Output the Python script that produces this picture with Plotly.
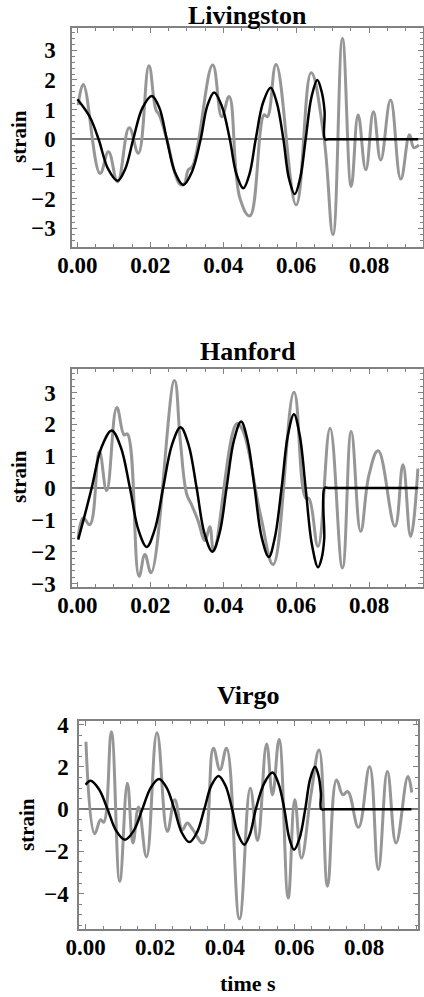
import plotly.graph_objects as go

# ---------------- data ----------------
liv_gray_t = [0.0002, 0.0016, 0.0062, 0.0085, 0.0110, 0.0142, 0.0167, 0.0196, 0.0215, 0.0225,
              0.0245, 0.0280, 0.0292, 0.0304, 0.0316, 0.0371, 0.0396, 0.0416, 0.0446, 0.0473,
              0.0512, 0.0521, 0.0545, 0.0600, 0.0641, 0.0676, 0.0701, 0.0727, 0.0751, 0.0770,
              0.0791, 0.0812, 0.0832, 0.0859, 0.0887, 0.0911, 0.0923, 0.0937]
liv_gray_y = [1.15, 1.85, -1.15, -0.42, -1.43, 0.39, -0.47, 2.48, 1.0, 0.8,
              0.0, -1.50, -1.52, -1.03, -0.9, 2.50, 0.76, 1.44, -2.0, -2.58,
              0.82, 0.76, 2.52, -2.21, 2.24, 0.09, -3.22, 3.40, -1.59, 0.82,
              -1.03, 0.93, -0.70, 1.32, -1.34, 0.15, -0.28, -0.19]

liv_black_t = [0.0000, 0.0034, 0.0058, 0.0084, 0.0110, 0.0131, 0.0153, 0.0178, 0.0204, 0.0225,
               0.0245, 0.0267, 0.0290, 0.0314, 0.0338, 0.0356, 0.0375, 0.0396, 0.0418, 0.0436,
               0.0455, 0.0472, 0.0489, 0.0509, 0.0530, 0.0547, 0.0565, 0.0580, 0.0596, 0.0611,
               0.0626, 0.0642, 0.0658, 0.0670, 0.0678, 0.0679, 0.0690, 0.0935]
liv_black_y = [1.35, 0.75, 0.0, -1.00, -1.40, -1.00, 0.0, 1.05, 1.46, 1.05,
               0.0, -1.10, -1.54, -1.10, 0.0, 1.12, 1.58, 1.12, 0.0, -1.17,
               -1.65, -1.17, 0.0, 1.23, 1.74, 1.23, 0.0, -1.31, -1.85, -1.31,
               0.0, 1.42, 2.00, 1.60, 0.93, 0.0, 0.0, 0.0]

han_gray_t = [0.0002, 0.0016, 0.0034, 0.0060, 0.0080, 0.0108, 0.0128, 0.0137, 0.0169, 0.0185,
              0.0202, 0.0266, 0.0282, 0.0300, 0.0312, 0.0330, 0.0350, 0.0363, 0.0374, 0.0437,
              0.0452, 0.0503, 0.0537, 0.0594, 0.0626, 0.0635, 0.0660, 0.0693, 0.0727, 0.0751,
              0.0777, 0.0800, 0.0825, 0.0871, 0.0893, 0.0914, 0.0934]
han_gray_y = [-1.57, -0.94, -1.15, 1.15, -0.08, 2.53, 1.67, 1.70, -2.77, -2.09,
              -2.66, 3.38, 1.5, -0.2, -0.5, -1.0, -1.65, -1.22, -1.97, 2.02,
              1.85, -0.89, -2.40, 3.01, -0.31, -0.33, -1.83, 1.88, -2.51, 1.78,
              -1.36, 0.42, 1.17, -1.20, 0.73, -1.52, 0.61]

han_black_t = [0.0002, 0.0020, 0.0039, 0.0066, 0.0094, 0.0119, 0.0144, 0.0167, 0.0190, 0.0212,
               0.0235, 0.0259, 0.0283, 0.0305, 0.0327, 0.0348, 0.0370, 0.0390, 0.0409, 0.0429,
               0.0449, 0.0467, 0.0486, 0.0505, 0.0525, 0.0542, 0.0560, 0.0577, 0.0594, 0.0610,
               0.0626, 0.0643, 0.0660, 0.0670, 0.0677, 0.0678, 0.0690, 0.0935]
han_black_y = [-1.62, -0.85, 0.0, 1.28, 1.81, 1.28, 0.0, -1.31, -1.85, -1.31,
               0.0, 1.35, 1.91, 1.35, 0.0, -1.41, -2.00, -1.41, 0.0, 1.48,
               2.09, 1.48, 0.0, -1.53, -2.17, -1.53, 0.0, 1.64, 2.32, 1.64,
               0.0, -1.76, -2.49, -2.20, -1.60, 0.0, 0.0, 0.0]

vir_gray_t = [0.0001, 0.0026, 0.0043, 0.0052, 0.0074, 0.0098, 0.0120, 0.0136, 0.0152, 0.0175,
              0.0205, 0.0235, 0.0256, 0.0278, 0.0292, 0.0308, 0.0338, 0.0367, 0.0386, 0.0405,
              0.0442, 0.0473, 0.0494, 0.0520, 0.0537, 0.0556, 0.0582, 0.0601, 0.0620, 0.0648,
              0.0671, 0.0695, 0.0721, 0.0739, 0.0753, 0.0784, 0.0816, 0.0841, 0.0867, 0.0892,
              0.0926, 0.0937]
vir_gray_y = [3.19, -1.16, -0.50, -0.62, 3.66, -3.41, 1.23, -1.60, 0.10, -2.26,
              3.62, -1.05, 0.44, -0.97, -0.66, -0.97, -1.60, 2.88, 1.86, 2.88,
              -5.19, 0.99, -1.48, 3.08, 0.68, 3.30, -4.20, 0.44, -2.31, 0.75,
              2.80, -3.65, 1.38, 0.68, 0.83, -0.86, 2.01, -2.86, 1.78, -1.60,
              1.54, 0.79]

vir_black_t = [0.0000, 0.0014, 0.0038, 0.0063, 0.0088, 0.0113, 0.0138, 0.0163, 0.0187, 0.0211,
               0.0233, 0.0255, 0.0276, 0.0298, 0.0320, 0.0341, 0.0361, 0.0382, 0.0402, 0.0421,
               0.0438, 0.0456, 0.0472, 0.0489, 0.0513, 0.0537, 0.0554, 0.0571, 0.0585, 0.0599,
               0.0615, 0.0631, 0.0645, 0.0659, 0.0669, 0.0676, 0.0677, 0.0690, 0.0936]
vir_black_y = [1.15, 1.34, 0.95, 0.0, -1.03, -1.45, -1.03, 0.0, 1.01, 1.43,
               1.01, 0.0, -1.10, -1.56, -1.10, 0.0, 1.11, 1.57, 1.11, 0.0,
               -1.19, -1.68, -1.19, 0.0, 1.22, 1.73, 1.22, 0.0, -1.36, -1.92,
               -1.36, 0.0, 1.42, 2.01, 1.60, 0.75, 0.0, 0.0, 0.0]

titles = ["Livingston", "Hanford", "Virgo"]
x_tickvals = [0.00, 0.02, 0.04, 0.06, 0.08]
y_tickvals = [[-3, -2, -1, 0, 1, 2, 3], [-3, -2, -1, 0, 1, 2, 3], [-4, -2, 0, 2, 4]]

# ---------------- layout geometry ----------------
W, H = 424, 997
panels = [
    # (left px, right px, top px, bottom px, xrange, yrange, minor y)
    (72, 423, 28, 247, [-0.0015, 0.0948], [-3.63, 3.75], 0.2),
    (72, 423, 369, 587, [-0.0015, 0.0948], [-3.11, 3.74], 0.2),
    (79, 418, 721, 929, [-0.0019, 0.0955], [-5.67, 4.17], 0.5),
]
series = [
    (liv_gray_t, liv_gray_y, liv_black_t, liv_black_y),
    (han_gray_t, han_gray_y, han_black_t, han_black_y),
    (vir_gray_t, vir_gray_y, vir_black_t, vir_black_y),
]

FONT = "Liberation Serif"
GRAY = "rgb(150,150,150)"
FRAME = "rgb(130,130,130)"

fig = go.Figure()
layout = dict(
    width=W, height=H,
    margin=dict(l=0, r=0, t=0, b=0),
    paper_bgcolor="white", plot_bgcolor="white",
    showlegend=False,
    font=dict(family=FONT, size=23, color="black"),
    annotations=[],
)

title_y = [15, 352, 695]
strain_pos = [(19, 137), (19, 477), (27, 825)]

for i, ((l, r, t, b, xr, yr, ym), (gt, gy, bt, by)) in enumerate(zip(panels, series)):
    n = "" if i == 0 else str(i + 1)
    xa, ya = "x" + n, "y" + n
    fig.add_trace(go.Scatter(x=gt, y=gy, mode="lines",
                             line=dict(color=GRAY, width=3, shape="spline", smoothing=1.2),
                             xaxis=xa, yaxis=ya, hoverinfo="skip"))
    fig.add_trace(go.Scatter(x=bt, y=by, mode="lines",
                             line=dict(color="black", width=2.5, shape="spline", smoothing=1.0),
                             xaxis=xa, yaxis=ya, hoverinfo="skip"))
    layout["xaxis" + n] = dict(
        domain=[l / W, r / W], range=xr, anchor=ya, automargin=False,
        tickvals=x_tickvals, tickformat=".2f",
        ticks="inside", ticklen=5, tickwidth=1, tickcolor=FRAME,
        minor=dict(dtick=0.005, tick0=0, ticks="inside", ticklen=3, tickcolor=FRAME, showgrid=False),
        showline=True, linecolor=FRAME, linewidth=1.5, mirror="allticks",
        showgrid=False, zeroline=False,
        tickfont=dict(family=FONT, size=23, color="black", weight="bold"),
        ticklabelstandoff=-3,
    )
    layout["yaxis" + n] = dict(
        domain=[1 - b / H, 1 - t / H], range=yr, anchor=xa, automargin=False,
        tickvals=y_tickvals[i],
        ticks="inside", ticklen=5, tickwidth=1, tickcolor=FRAME,
        minor=dict(dtick=ym, tick0=0, ticks="inside", ticklen=3, tickcolor=FRAME, showgrid=False),
        showline=True, linecolor=FRAME, linewidth=1.5, mirror="allticks",
        showgrid=False, zeroline=True, zerolinecolor="rgb(120,120,120)", zerolinewidth=1.5,
        tickfont=dict(family=FONT, size=23, color="black", weight="bold"),
        ticklabelstandoff=10 if i < 2 else 4,
    )
    layout["annotations"].append(dict(
        text="<b>%s</b>" % titles[i], x=((l + r) / 2) / W, y=1 - title_y[i] / H,
        xref="paper", yref="paper", xanchor="center", yanchor="middle", showarrow=False,
        font=dict(family=FONT, size=26, color="black")))
    sx, sy = strain_pos[i]
    layout["annotations"].append(dict(
        text="<b>strain</b>", x=sx / W, y=1 - sy / H, textangle=-90,
        xref="paper", yref="paper", xanchor="center", yanchor="middle", showarrow=False,
        font=dict(family=FONT, size=21, color="black")))

layout["annotations"].append(dict(
    text="<b>time s</b>", x=248 / W, y=1 - 983 / H,
    xref="paper", yref="paper", xanchor="center", yanchor="middle", showarrow=False,
    font=dict(family=FONT, size=22, color="black")))

fig.update_layout(**layout)
fig.write_html("out.html")
